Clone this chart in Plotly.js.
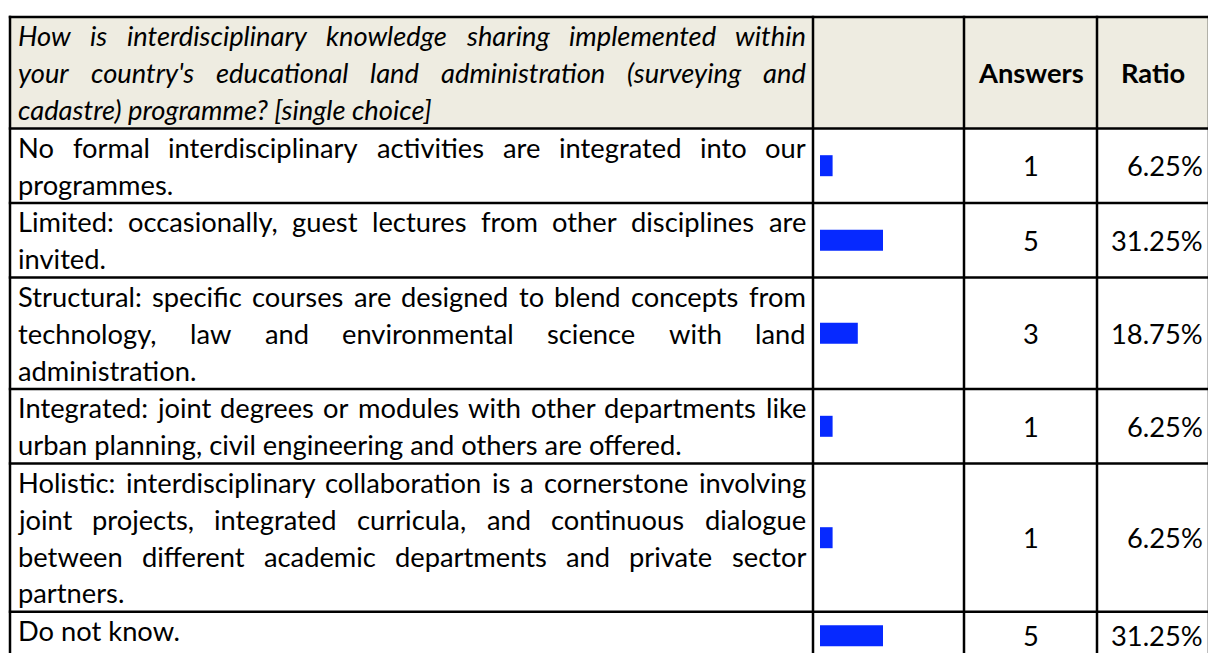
<!DOCTYPE html>
<html><head><meta charset="utf-8">
<script src="https://cdn.plot.ly/plotly-3.0.1.min.js"></script>
<style>html,body{margin:0;padding:0;background:#fff;overflow:hidden}</style>
</head><body>
<div id="chart" style="width:1208px;height:653px"></div>
<script>
// ---------- data ----------
const question = "How is interdisciplinary knowledge sharing implemented within<br>your country's educational land administration (surveying and<br>cadastre) programme? [single choice]";
const categories = [
  "No formal interdisciplinary activities are integrated into our<br>programmes.",
  "Limited: occasionally, guest lectures from other disciplines are<br>invited.",
  "Structural: specific courses are designed to blend concepts from<br>technology, law and environmental science with land<br>administration.",
  "Integrated: joint degrees or modules with other departments like<br>urban planning, civil engineering and others are offered.",
  "Holistic: interdisciplinary collaboration is a cornerstone involving<br>joint projects, integrated curricula, and continuous dialogue<br>between different academic departments and private sector<br>partners.",
  "Do not know."
];
const answers = [1, 5, 3, 1, 1, 5];
const ratios = [6.25, 31.25, 18.75, 6.25, 6.25, 31.25];
const headerLabels = ["Answers", "Ratio"];

// ---------- layout constants ----------
const W = 1208, H = 653;
const tableTop = 17;
const colX = [10, 813, 964, 1097, 1209];
const lineH = 36.8, rowPad = 1, lastRowH = 48;
const textLeft = 18, textRight = 806;
const barStart = 820, pxPerAnswer = 12.6, barH = 21;
const headerBg = '#EEECE1', barColor = '#0629FF', lineColor = '#000000';
const FAMILY = 'Lato';

const px = x => x / W;
const py = y => 1 - y / H;

const ctx = document.createElement('canvas').getContext('2d');
function measure(text, size, style, weight) {
  ctx.font = `${style || 'normal'} ${weight || 'normal'} ${size}px ${FAMILY}`;
  return ctx.measureText(text).width;
}

function draw() {
  // calibrate font size so text widths match the reference (Calibri-like metrics)
  const refA = measure("Do not know.", 100), refB = measure("urban planning, civil engineering and others are offered.", 100);
  const fs = 100 * (157 + 669) / (refA + refB);

  const shapes = [], annotations = [];
  const rowLines = [question, ...categories].map(t => t.split('<br>'));
  const rowTops = [];
  let y = tableTop;
  rowLines.forEach((l, r) => {
    rowTops.push(y);
    y += (r === rowLines.length - 1) ? lastRowH : l.length * lineH + rowPad;
  });
  rowTops.push(y);

  // header background
  shapes.push({type:'rect', xref:'paper', yref:'paper', x0:px(colX[0]), x1:px(W + 5),
    y0:py(rowTops[0]), y1:py(rowTops[1]), fillcolor:headerBg, line:{width:0}, layer:'below'});

  // paragraph text (justified like the reference)
  rowLines.forEach((lines, r) => {
    const italic = r === 0;
    lines.forEach((line, i) => {
      const yc = rowTops[r] + rowPad / 2 + lineH * (i + 0.5);
      const wrap = s => italic ? '<i>' + s + '</i>' : s;
      const base = {xref:'paper', yref:'paper', showarrow:false, xanchor:'left', yanchor:'middle',
        borderpad:0, borderwidth:0, font:{family:FAMILY, size:fs, color:'#000'}};
      const last = i === lines.length - 1;
      if (last) {
        annotations.push(Object.assign({}, base, {x:px(textLeft), y:py(yc), text:wrap(line)}));
      } else {
        const words = line.split(' ');
        const ws = words.map(w => measure(w, fs, italic ? 'italic' : 'normal'));
        const total = ws.reduce((a, b) => a + b, 0);
        const gap = (textRight - textLeft - total) / (words.length - 1);
        let x = textLeft;
        words.forEach((w, k) => {
          annotations.push(Object.assign({}, base, {x:px(x), y:py(yc), text:wrap(w)}));
          x += ws[k] + gap;
        });
      }
    });
  });

  // header labels
  const hc = (rowTops[0] + rowTops[1]) / 2;
  headerLabels.forEach((lab, k) => {
    annotations.push({xref:'paper', yref:'paper', showarrow:false, xanchor:'center', yanchor:'middle',
      borderpad:0, borderwidth:0, x:px((colX[2 + k] + colX[3 + k]) / 2), y:py(hc),
      text:'<b>' + lab + '</b>', font:{family:FAMILY, size:fs, color:'#000'}});
  });

  // numbers
  const centers = [];
  for (let r = 1; r < rowTops.length - 1; r++) centers.push((rowTops[r] + rowTops[r + 1]) / 2);
  answers.forEach((a, i) => {
    annotations.push({xref:'paper', yref:'paper', showarrow:false, xanchor:'center', yanchor:'middle',
      borderpad:0, borderwidth:0, x:px((colX[2] + colX[3]) / 2), y:py(centers[i]),
      text:String(a), font:{family:FAMILY, size:fs, color:'#000'}});
    annotations.push({xref:'paper', yref:'paper', showarrow:false, xanchor:'right', yanchor:'middle',
      borderpad:0, borderwidth:0, x:px(1203), y:py(centers[i]),
      text:ratios[i].toFixed(2) + '%', font:{family:FAMILY, size:fs, color:'#000'}});
  });

  // grid lines
  rowTops.forEach(t => shapes.push({type:'line', xref:'paper', yref:'paper',
    x0:px(colX[0] - 1.2), x1:px(W + 5), y0:py(t), y1:py(t), line:{color:lineColor, width:2.5}}));
  colX.forEach(c => shapes.push({type:'line', xref:'paper', yref:'paper',
    x0:px(c), x1:px(c), y0:py(tableTop - 1.2), y1:py(H + 5), line:{color:lineColor, width:2.5}}));

  const trace = {type:'bar', orientation:'h', x:answers, y:centers, width:barH, base:0,
    marker:{color:barColor, line:{width:0}}, hoverinfo:'skip', showlegend:false};

  const layout = {
    width:W, height:H, margin:{l:0, r:0, t:0, b:0},
    paper_bgcolor:'#fff', plot_bgcolor:'rgba(0,0,0,0)',
    xaxis:{domain:[px(barStart), px(colX[2])], range:[0, (colX[2] - barStart) / pxPerAnswer],
      visible:false, fixedrange:true},
    yaxis:{domain:[0, 1], range:[H, 0], visible:false, fixedrange:true},
    shapes, annotations, showlegend:false
  };
  Plotly.newPlot('chart', [trace], layout, {staticPlot:true, displayModeBar:false});
}

const loads = document.fonts && document.fonts.load ?
  Promise.all(['20px Lato', 'italic 20px Lato', 'bold 20px Lato'].map(f => document.fonts.load(f))) :
  Promise.resolve();
loads.then(draw, draw);
</script>
</body></html>
